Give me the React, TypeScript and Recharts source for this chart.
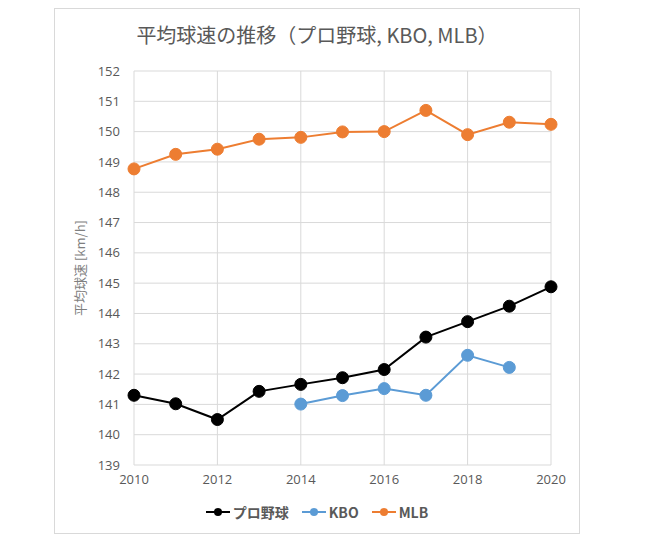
import React from 'react';
import { LineChart, Line, XAxis, YAxis, CartesianGrid } from 'recharts';

const years = [2010, 2011, 2012, 2013, 2014, 2015, 2016, 2017, 2018, 2019, 2020];
const npb = [141.3, 141.02, 140.5, 141.43, 141.66, 141.88, 142.15, 143.22, 143.73, 144.24, 144.88];
const kbo = [null, null, null, null, 141.01, 141.29, 141.52, 141.3, 142.62, 142.22, null];
const mlb = [148.77, 149.25, 149.42, 149.75, 149.81, 149.99, 150.0, 150.7, 149.9, 150.31, 150.24];
const xTicks = [2010, 2012, 2014, 2016, 2018, 2020];
const yTicks = [139, 140, 141, 142, 143, 144, 145, 146, 147, 148, 149, 150, 151, 152];

const series = [
  { key: 'npb', name: 'プロ野球', color: '#000000' },
  { key: 'kbo', name: 'KBO', color: '#5b9bd5' },
  { key: 'mlb', name: 'MLB', color: '#ed7d31' },
];

const data = years.map((year, i) => ({ year, npb: npb[i], kbo: kbo[i], mlb: mlb[i] }));

const FONT = '"Open Sans", "Noto Sans CJK JP", sans-serif';
const TEXT = '#595959';

export default function App() {
  return (
    <div style={{ position: 'relative', width: 653, height: 546, margin: -8, background: '#fff', fontFamily: FONT }}>
      {/* chart area border */}
      <div style={{ position: 'absolute', left: 54, top: 8, width: 524, height: 524, border: '1px solid #d9d9d9' }} />
      <div
        style={{
          position: 'absolute', left: 54, top: 20, width: 526, textAlign: 'center',
          fontSize: 20, color: TEXT, fontFamily: '"Noto Sans CJK JP", "Open Sans", sans-serif',
        }}
      >
        平均球速の推移（プロ野球, KBO, MLB）
      </div>
      <div style={{ position: 'absolute', left: 0, top: 0 }}>
        <LineChart width={653} height={546} data={data} margin={{ top: 71, right: 102, left: 94, bottom: 51 }}>
          <CartesianGrid stroke="#d9d9d9" strokeWidth={1} verticalValues={xTicks} horizontalValues={yTicks} />
          <XAxis
            dataKey="year"
            type="number"
            domain={[2010, 2020]}
            ticks={xTicks}
            height={30}
            axisLine={false}
            tickLine={false}
            tickMargin={4}
            tick={{ fill: TEXT, fontSize: 13, fontFamily: FONT }}
          />
          <YAxis
            domain={[139, 152]}
            ticks={yTicks}
            width={40}
            axisLine={false}
            tickLine={false}
            tickMargin={8}
            interval={0}
            tick={{ fill: TEXT, fontSize: 13, fontFamily: FONT }}
            label={{
              value: '平均球速 [km/h]', angle: -90, position: 'left', offset: 14,
              style: { textAnchor: 'middle', fill: '#7f7f7f', fontSize: 13, fontFamily: '"Noto Sans CJK JP", sans-serif' },
            }}
          />
          {series.map(s => (
            <Line
              key={s.key}
              dataKey={s.key}
              name={s.name}
              stroke={s.color}
              strokeWidth={2}
              dot={{ r: 6, fill: s.color, stroke: s.color, strokeWidth: 1 }}
              activeDot={false}
              isAnimationActive={false}
            />
          ))}
        </LineChart>
      </div>
      <div
        style={{
          position: 'absolute', left: 54, top: 502, width: 526, display: 'flex', justifyContent: 'center',
          gap: 13, fontSize: 14, fontWeight: 700, color: TEXT, fontFamily: '"Noto Sans CJK JP", "Open Sans", sans-serif',
        }}
      >
        {series.map(s => (
          <div key={s.key} style={{ display: 'flex', alignItems: 'center', gap: 3 }}>
            <svg width={24} height={10}>
              <line x1={0} y1={5} x2={24} y2={5} stroke={s.color} strokeWidth={2} />
              <circle cx={12} cy={5} r={4} fill={s.color} />
            </svg>
            <span>{s.name}</span>
          </div>
        ))}
      </div>
    </div>
  );
}
